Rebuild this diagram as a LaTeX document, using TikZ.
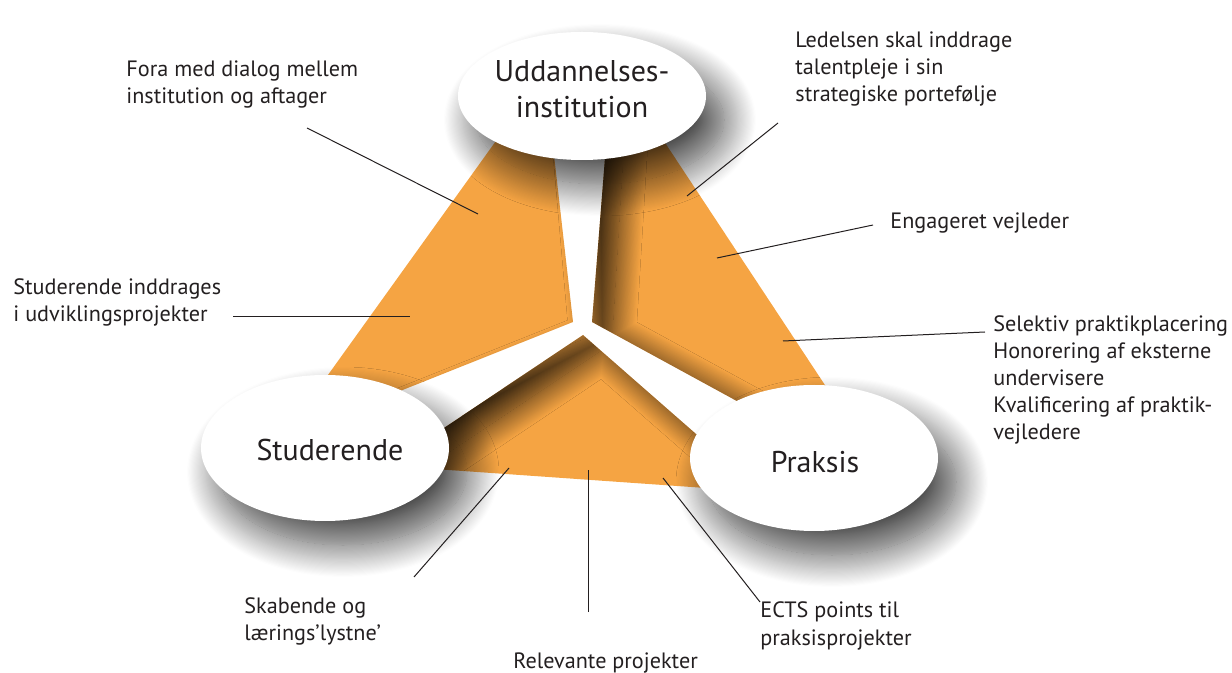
\documentclass[tikz,border=0pt]{standalone}
\usepackage{fontspec}
\setmainfont{PT Sans}
\usetikzlibrary{shapes.geometric, shadows.blur}

\definecolor{felt}{HTML}{F5A443}
\definecolor{blæk}{HTML}{231F20}

\tikzset{
  aktoer/.style={ellipse, fill=white, inner sep=0pt,
    blur shadow={shadow xshift=9pt, shadow yshift=-12pt, shadow blur radius=16pt,
      shadow opacity=72, shadow blur steps=30}},
  navn/.style={align=center, text=blæk, font=\fontsize{15}{18}\selectfont},
  note/.style={anchor=base west, align=left, inner sep=0pt, text=blæk,
    font=\fontsize{11.1}{13.5}\selectfont},
  streg/.style={draw=blæk, line width=0.5pt},
}

\begin{document}
\begin{tikzpicture}[x=0.5pt, y=-0.5pt]
  \useasboundingbox (0,0) rectangle (1232,673);

  % the three orange fields, with the shadow of the white gaps on them
  \begin{scope}
    \clip (511,120) -- (550,120) -- (573,322) -- (360,407) -- (310,400) -- cycle
          (608,120) -- (650,120) -- (848,420) -- (790,430) -- (592,322) -- cycle
          (583,335) -- (720,455) -- (720,489) -- (420,468) -- (420,444) -- cycle;
    \fill[felt] (0,0) rectangle (1232,673);
    \path[blur shadow={shadow xshift=10pt, shadow yshift=-7pt, shadow blur radius=12pt,
        shadow opacity=80, shadow blur steps=30}]
      (550,60) -- (573,322) -- (360,407) -- (420,444) -- (583,335) -- (720,455)
      -- (790,430) -- (592,322) -- (608,60) -- cycle;
  \end{scope}

  % actors
  \node[aktoer, minimum width=124pt, minimum height=64pt] (uddannelse) at (582,96) {};
  \node[navn] (uddannelse-navn) at (582,89) {Uddannelses-\\institution};
  \node[aktoer, minimum width=124pt, minimum height=73pt] (studerende) at (325,448) {};
  \node[navn] (studerende-navn) at (330,450) {Studerende};
  \node[aktoer, minimum width=124pt, minimum height=73pt] (praksis) at (814,458) {};
  \node[navn] (praksis-navn) at (815,462) {Praksis};

  % notes (anchored at the baseline of their last line)
  \node[note] (fora) at (126,104) {Fora med dialog mellem\\institution og aftager};
  \node[note] (ledelse) at (795,102) {Ledelsen skal inddrage\\talentpleje i sin\\strategiske portefølje};
  \node[note] (vejleder) at (890,229) {Engageret vejleder};
  \node[note] (udvikling) at (13,322) {Studerende inddrages\\i udviklingsprojekter};
  \node[note] (placering) at (993,440) {Selektiv praktikplacering\\Honorering af eksterne\\undervisere\\Kvalificering af praktik-\\vejledere};
  \node[note] (skabende) at (244,640) {Skabende og\\lærings’lystne’};
  \node[note] (relevante) at (513,668) {Relevante projekter};
  \node[note] (ects) at (760,645) {ECTS points til\\praksisprojekter};

  % leader lines
  \coordinate (fora-a) at (307,128);      \coordinate (fora-b) at (478,214);
  \coordinate (ledelse-a) at (778,123);   \coordinate (ledelse-b) at (687,196);
  \coordinate (vejleder-a) at (873,225);  \coordinate (vejleder-b) at (717,258);
  \coordinate (udvikling-a) at (233,317); \coordinate (udvikling-b) at (410,317);
  \coordinate (placering-a) at (985,332); \coordinate (placering-b) at (783,341);
  \coordinate (skabende-a) at (414,577);  \coordinate (skabende-b) at (509,468);
  \coordinate (relevante-a) at (588,612); \coordinate (relevante-b) at (588,470);
  \coordinate (ects-a) at (760,602);      \coordinate (ects-b) at (663,478);

  \draw[streg] (fora-a) -- (fora-b);
  \draw[streg] (ledelse-a) -- (ledelse-b);
  \draw[streg] (vejleder-a) -- (vejleder-b);
  \draw[streg] (udvikling-a) -- (udvikling-b);
  \draw[streg] (placering-a) -- (placering-b);
  \draw[streg] (skabende-a) -- (skabende-b);
  \draw[streg] (relevante-a) -- (relevante-b);
  \draw[streg] (ects-a) -- (ects-b);
\end{tikzpicture}
\end{document}
